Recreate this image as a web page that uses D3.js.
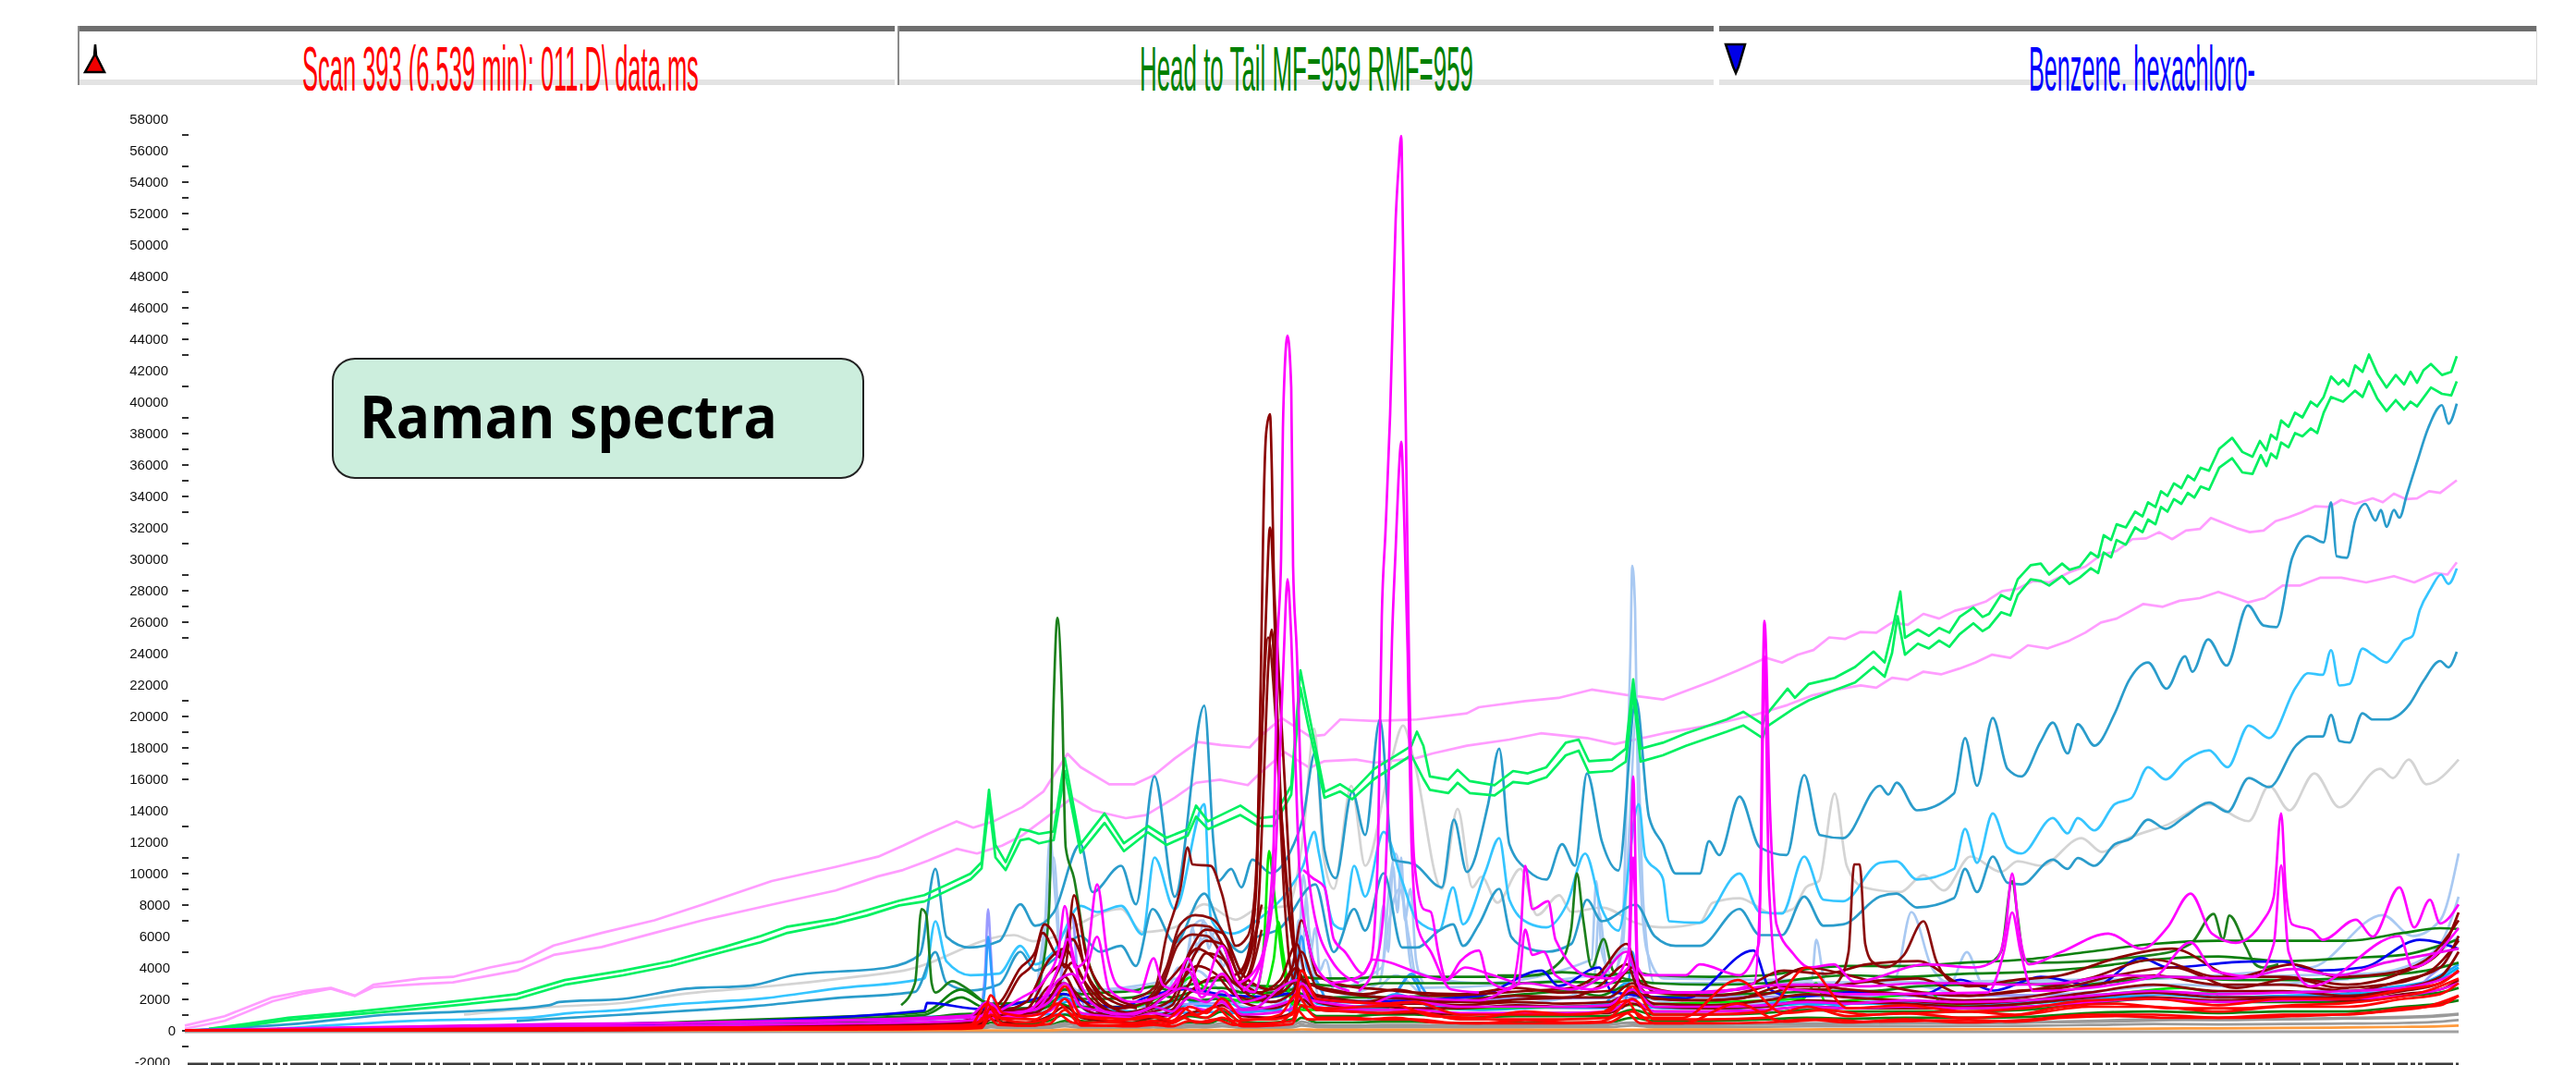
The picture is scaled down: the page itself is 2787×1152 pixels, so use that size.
<!DOCTYPE html>
<html>
<head>
<meta charset="utf-8">
<title>Raman spectra</title>
<script src="https://d3js.org/d3.v7.min.js"></script>
<style>
    html, body { margin:0; padding:0; background:#fff; }
    svg { display:block; }
    .spec { fill:none; stroke-width:2.7; stroke-linejoin:round; }
    .ylab { font-family:"Liberation Sans",Arial,sans-serif; font-size:15px; fill:#111; }
    .head { font-family:"Liberation Sans",Arial,sans-serif; font-size:69px; }
</style>
</head>
<body>
<script>
// header strip
const headTitles = ["Scan 393 (6.539 min): 011.D\\ data.ms", "Head to Tail MF=959 RMF=959", "Benzene, hexachloro-"];
const headColors = ["#ff0000", "#008000", "#0000ff"];

// y axis
const labelTicks = d3.range(-2000, 58001, 2000);
const minorTicks = [57000,55000,54000,53000,52000,51000,47000,46000,45000,44000,43000,41000,39000,38000,37000,36000,35000,34000,33000,31000,29000,28000,27000,26000,25000,21000,20000,19000,18000,17000,16000,13000,11000,10000,9000,8000,7000,5000,3000,2000,1000,0,-1000];

// upper spectra, channel / intensity
const pinkUpperX = [200,243,295,330,358,384,404,456,490,530,565,599,651,708,760,835,904,950,977,1004,1035,1053,1075,1106,1129,1155,1169,1200,1227,1249,1271,1296,1321,1352,1363,1387,1417,1433,1450,1487,1533,1587,1600,1650,1686,1722,1759,1799,1853,1880,1911,1928,1945,1962,1979,1996,2013,2030,2047,2064,2081,2098,2115,2132,2149,2166,2183,2200,2217,2239,2256,2273,2290,2307,2322,2336,2350,2365,2380,2392,2409,2420,2434,2449,2462,2476,2490,2505,2520,2533,2548,2567,2578,2590,2603,2615,2628,2640,2658];
const pinkUpperY = [300,900,2100,2500,2700,2200,2900,3300,3400,4000,4400,5400,6200,7000,8000,9500,10400,11050,11750,12500,13300,12900,13300,14200,15200,17600,16750,15650,15650,16250,17300,18350,18150,18000,18700,19860,18700,18800,19780,19680,19780,20170,20560,20950,21150,21680,21350,21050,22230,22900,23700,23400,23900,24200,25000,24900,25350,25300,25950,25800,26500,26200,26700,26950,27300,27950,28100,28600,28500,29150,29500,30250,30500,31250,31300,31700,31250,31800,31900,32600,32200,31950,31700,31800,32400,32650,32950,33350,33300,33750,33500,33850,33600,34150,33800,33850,34300,34200,35000];
const pinkLowerX = [200,243,295,330,358,384,404,456,490,559,599,651,708,760,835,904,950,977,1004,1035,1057,1084,1106,1138,1160,1182,1218,1240,1271,1294,1320,1350,1363,1390,1417,1433,1467,1487,1533,1550,1587,1633,1667,1717,1747,1800,1850,1900,1934,1960,1985,2013,2030,2047,2064,2081,2100,2120,2137,2155,2175,2194,2215,2239,2256,2273,2290,2319,2340,2358,2380,2400,2415,2432,2450,2470,2488,2510,2533,2560,2590,2612,2635,2648,2658];
const pinkLowerY = [100,600,1850,2350,2650,2200,2750,2950,3050,3800,4800,5300,6200,7000,8000,8900,9800,10200,10800,11550,11250,11750,12400,13800,14800,14000,13500,13700,14800,15750,15950,15600,16350,17700,16700,17130,17230,17030,17330,17620,18110,18500,18900,18600,18210,18900,19400,20100,20700,21300,21650,21950,21800,22430,22300,22820,22650,23020,23400,23900,23700,24500,24300,24800,25300,25950,26200,27130,26950,27330,27500,27900,27600,27230,27500,28310,28300,28800,28800,28500,28900,28500,29100,29000,29780];
const greenUpperX = [226,266,312,370,421,485,559,611,674,726,783,823,852,904,938,973,1000,1022,1050,1062,1070,1077,1088,1104,1113,1124,1140,1152,1169,1195,1216,1242,1262,1285,1294,1307,1342,1362,1378,1397,1407,1415,1433,1450,1463,1487,1527,1533,1540,1547,1567,1577,1590,1617,1637,1653,1673,1694,1708,1719,1744,1759,1767,1775,1799,1824,1868,1886,1907,1911,1934,1942,1957,1971,1985,2007,2027,2039,2047,2056,2061,2075,2087,2098,2109,2120,2135,2145,2152,2165,2175,2183,2197,2208,2217,2231,2239,2250,2262,2270,2276,2284,2290,2300,2310,2318,2324,2332,2338,2345,2352,2360,2367,2374,2381,2390,2401,2415,2426,2437,2445,2452,2457,2463,2468,2476,2483,2491,2500,2507,2514,2522,2530,2535,2541,2548,2556,2563,2572,2582,2592,2601,2608,2615,2622,2630,2642,2652,2658];
const greenUpperY = [100,400,800,1100,1400,1800,2300,3200,3800,4400,5300,6000,6600,7100,7650,8250,8600,9200,9970,10700,15300,11800,10700,12800,12700,12500,12650,17300,11850,13800,11900,13000,12250,12800,14300,13300,14300,13500,13600,15560,22900,20460,15170,15660,15170,16640,18100,19000,18100,16150,15950,16580,15860,15600,16500,16350,16740,18300,18500,17130,17230,17920,22330,17920,18300,18900,19780,20270,19480,20080,21740,21160,22040,22230,22430,23120,24100,23410,25370,27920,24980,25500,25100,25600,25300,26300,26900,26300,26500,27700,27400,28700,29600,29700,29000,29700,29300,29500,30400,30100,31500,31200,32200,32000,33000,32700,33600,33300,34300,34000,34800,34500,35300,35000,35800,35600,37000,37700,36800,36500,37500,36900,37900,37600,38800,38400,39300,39000,40000,39700,40300,41600,41100,41400,41000,42300,41900,43000,41800,40900,41700,41100,41900,41200,42000,42400,41700,41900,42900];
const greenLowerX = [226,266,312,370,421,485,559,611,674,726,783,823,852,904,938,973,1000,1022,1050,1062,1070,1077,1088,1104,1113,1124,1140,1152,1169,1195,1216,1242,1262,1285,1294,1307,1342,1362,1378,1397,1407,1415,1433,1450,1463,1487,1527,1540,1547,1567,1577,1590,1617,1637,1653,1673,1694,1708,1719,1744,1759,1767,1775,1799,1824,1868,1886,1907,1911,1940,1957,1985,2007,2027,2039,2047,2053,2061,2075,2087,2098,2109,2120,2135,2145,2152,2165,2175,2183,2197,2208,2217,2231,2239,2250,2262,2270,2276,2284,2290,2300,2310,2318,2324,2332,2338,2345,2352,2360,2367,2374,2381,2390,2401,2415,2426,2437,2446,2452,2457,2463,2468,2476,2483,2491,2500,2507,2514,2522,2535,2548,2556,2563,2572,2582,2592,2601,2608,2615,2630,2642,2652,2658];
const greenLowerY = [80,300,650,950,1200,1550,2000,2900,3500,4100,5000,5600,6200,6800,7300,7950,8200,8800,9600,10300,14500,11000,10200,12100,12200,11900,12100,16500,11300,13200,11400,12600,11800,12400,13600,12800,13700,13000,13000,15000,21800,19500,14800,15200,14700,16000,17500,16000,15300,15100,15750,15100,14950,15800,15700,16100,17500,17800,16400,16500,17100,21500,17100,17500,18100,19000,19400,18600,19300,20450,21000,21650,22130,23120,22500,24000,26350,23900,24600,24300,24800,24400,25200,25900,25400,25650,26600,26400,27700,28700,28600,28300,28900,28400,28800,29400,29100,30400,30100,31200,30900,32000,31700,32500,32200,33300,33000,33800,33500,34200,33900,34600,34400,35800,36400,35500,35400,36600,35900,36700,36400,37400,37100,38000,37800,38300,38000,39300,40300,40000,40700,40300,41300,40200,39400,40100,39500,40000,39700,40900,40500,40400,41300];
const tealUpperX = [200,318,421,502,594,605,674,743,812,858,961,995,1012,1024,1049,1081,1104,1120,1140,1169,1182,1213,1229,1249,1271,1303,1313,1318,1332,1343,1355,1375,1395,1410,1423,1433,1445,1463,1477,1493,1507,1530,1560,1573,1587,1610,1622,1633,1653,1673,1690,1704,1717,1733,1751,1770,1784,1799,1813,1839,1849,1860,1882,1904,1933,1952,1969,1994,2034,2043,2052,2074,2114,2126,2139,2156,2172,2187,2208,2221,2237,2248,2266,2288,2303,2324,2344,2364,2372,2389,2409,2432,2449,2463,2480,2497,2514,2522,2528,2539,2548,2559,2570,2576,2582,2590,2596,2604,2615,2627,2642,2649,2658];
const tealUpperY = [0,400,1000,1200,1600,1800,2000,2650,2850,3500,4000,4800,10270,5960,5270,5670,8020,6650,7500,11840,8800,10470,8020,16150,8500,20660,11840,9490,10270,9100,10860,10000,11250,13600,17720,11450,9680,15170,12430,19780,10860,10570,9100,13400,10080,14390,17920,11840,10170,9590,11840,10470,16350,12040,10170,21050,13600,11840,9980,9980,12040,11150,14880,11640,11150,16250,12430,12230,15560,15000,15760,14000,15070,18600,15560,19880,16640,16150,18400,19580,17620,19480,18110,20170,22230,23410,21740,23800,22820,24880,23210,27040,25760,25660,30070,31450,31050,33600,30170,30070,32430,33500,32430,33110,32030,33110,32620,34090,36150,38310,39780,38600,39870];
const skyX = [300,444,571,617,674,731,829,904,1000,1012,1024,1050,1081,1104,1120,1140,1169,1187,1213,1236,1249,1271,1303,1310,1320,1333,1360,1395,1410,1422,1427,1443,1453,1465,1477,1497,1517,1533,1557,1572,1583,1607,1622,1633,1653,1673,1695,1715,1733,1751,1773,1780,1799,1806,1839,1882,1904,1928,1952,1973,1994,2034,2052,2074,2114,2126,2139,2156,2172,2187,2221,2237,2248,2266,2288,2306,2324,2343,2364,2390,2410,2433,2455,2484,2497,2513,2522,2531,2542,2556,2567,2582,2593,2600,2610,2618,2630,2641,2649,2658];
const skyY = [100,600,800,1100,1300,1650,2050,2650,3300,6940,4390,3510,3610,5370,4200,5000,7920,7530,7920,6100,11000,7700,14390,7140,6350,6160,7000,9000,10500,12620,11250,6740,6450,10470,8510,12620,9490,7000,6350,9100,6740,10080,12230,8310,6840,6550,8000,11250,7720,6350,14390,11060,9680,6940,6840,9980,7530,7430,11060,8310,8210,10660,10760,9590,10270,12820,10660,13800,11640,11250,13510,12530,13510,12720,14390,14780,16740,15960,17130,17820,16740,19390,18600,21840,22720,22620,24190,21940,22040,24290,23900,23410,24190,24780,25080,26740,28110,29000,28410,29390];
const tealLowerX = [559,674,818,904,990,1012,1024,1050,1081,1104,1120,1140,1169,1190,1213,1229,1247,1271,1303,1320,1343,1355,1385,1423,1443,1465,1477,1497,1517,1533,1557,1572,1583,1600,1622,1635,1653,1673,1700,1717,1733,1770,1790,1813,1839,1882,1904,1928,1952,1973,1994,2034,2052,2074,2114,2126,2139,2156,2172,2187,2221,2237,2248,2266,2288,2306,2324,2343,2364,2390,2410,2433,2455,2484,2498,2513,2522,2531,2542,2556,2567,2582,2607,2622,2640,2649,2658];
const tealLowerY = [600,1000,1550,2050,2450,4980,3020,2530,2920,5000,3800,4500,6000,5000,5370,4100,7720,5570,8700,6550,4980,5760,6500,9290,4980,7720,6350,10000,5270,5270,6350,6740,5370,6740,9000,5960,5200,5000,5500,8310,6940,8000,6000,5370,5370,7720,6060,6060,8510,6650,6740,8510,8700,7820,8410,10270,8800,11060,9390,9290,10860,10270,10960,10470,11840,12230,13410,12820,13600,14490,13900,16050,15470,18110,18700,18700,20070,18410,18310,20170,19780,19780,20760,22230,23500,23100,24090];
const greyLineX = [502,599,674,743,823,932,978,1097,1118,1213,1236,1271,1303,1337,1360,1393,1410,1422,1432,1443,1462,1477,1505,1518,1530,1560,1577,1593,1603,1620,1645,1663,1687,1700,1733,1770,1799,1839,1853,1882,1918,1940,1954,1968,1985,1998,2016,2056,2081,2103,2132,2165,2183,2208,2252,2274,2303,2346,2390,2433,2455,2477,2504,2531,2575,2589,2606,2625,2660];
const greyLineY = [1000,1500,1750,2350,2750,3450,3800,6060,5670,7720,6250,6550,8020,7040,7720,7920,12430,19190,11060,9000,15560,10470,17130,19390,17130,9000,14090,9100,9780,8120,10270,7330,8600,7530,7820,6840,6550,6840,8120,8410,7430,7720,9100,9500,15070,10470,9100,8800,9880,8900,11060,10080,10760,10470,12230,11350,12230,13110,14390,13310,15560,14000,16350,14190,16640,16050,17230,15660,17230];

// sharp peaks
const magentaTallX = [1440,1470,1483,1487,1491,1495,1499,1504,1510,1513,1516,1518,1521,1524,1530,1540,1548,1556,1565,1585,1610,1640];
const magentaTallY = [3000,3400,4400,6350,12000,26380,31790,39200,51600,54800,56900,50000,38200,25260,10860,7720,7530,5000,3220,4000,3600,3000];
const magentaInnerX = [1470,1487,1496,1502,1506,1510,1513,1516,1519,1523,1527,1534,1548,1570,1600];
const magentaInnerY = [2500,4000,7000,15000,24800,30700,35000,37450,33000,24000,12000,6500,5000,2600,2400];
const magentaSecondX = [1340,1362,1372,1378,1382,1386,1388,1390,1393,1397,1399,1403,1408,1412,1420,1440,1470];
const magentaSecondY = [3000,4200,7000,12000,24400,30000,38300,42150,44200,40900,29550,24150,15000,12000,8000,4500,3000];
const magentaSecond2X = [1345,1365,1378,1385,1389,1393,1397,1401,1406,1414,1430,1460];
const magentaSecond2Y = [2500,4500,9000,18000,24000,28700,25000,18000,10000,6000,3500,2500];
const brownTallX = [1335,1345,1357,1360,1365,1367,1370,1374,1376,1378,1382,1390,1397,1403,1412];
const brownTallY = [3500,4000,7330,10270,25700,32900,38100,39200,35700,29400,24400,15760,8310,4000,3000];
const brownInnerX = [1345,1355,1361,1366,1370,1374,1378,1382,1386,1392,1400,1408];
const brownInnerY = [3500,6000,12000,20000,27000,32000,28000,20000,14000,9000,5000,3200];
const brownInner2X = [1345,1357,1363,1368,1372,1376,1380,1385,1390,1397,1406];
const brownInner2Y = [3000,5000,9500,17000,23000,25500,21000,15000,11000,6500,3000];
const brownShoulderX = [1225,1250,1262,1277,1285,1290,1310,1322,1337,1350,1358,1363,1372,1380,1390,1396,1405];
const brownShoulderY = [2000,2800,6000,9000,11640,10560,10460,8700,5370,6000,9000,16000,25000,20000,8000,4000,2500];
const brownGroupX = [1240,1262,1277,1293,1310,1327,1340,1352,1365];
const brownGroupY = [1800,4000,6740,7330,7130,5760,3600,4800,8000];
const brownGroup2X = [1240,1260,1275,1292,1308,1325,1338,1350,1362];
const brownGroup2Y = [1600,3400,6000,6700,6600,5200,3100,4200,7000];
const brownGroup3X = [1240,1258,1274,1290,1306,1323,1342,1355,1365];
const brownGroup3Y = [1500,2900,5400,6100,6000,4700,2800,4000,6400];
const brownLeftX = [1060,1085,1103,1120,1130,1145,1152,1162,1175,1190,1207,1230];
const brownLeftY = [800,2000,3900,5000,6740,5400,4000,8600,4800,2800,2030,1500];
const brownLeft2X = [1060,1085,1103,1118,1128,1143,1150,1160,1173,1188,1205,1230];
const brownLeft2Y = [700,1600,3400,4300,6200,4800,4600,7400,4100,2500,1800,1400];
const brownSpikeX = [1940,1975,1990,2000,2006,2012,2018,2025,2040,2060,2081,2095,2115,2150];
const brownSpikeY = [2600,2600,3200,5000,10560,10560,5500,4400,4000,4800,6940,4400,3000,2800];
const darkGreenPeakX = [1120,1128,1135,1140,1144,1149,1153,1162,1175,1190];
const darkGreenPeakY = [2500,4000,7720,21050,26250,21050,11640,9680,5000,2600];
const darkGreenSmallX = [975,990,997,1002,1008,1012,1030,1045,1062];
const darkGreenSmallY = [1600,3020,7720,7400,3000,2400,3120,2700,1900];
const darkGreenMidX = [1620,1660,1690,1700,1706,1713,1722,1735,1745,1753,1765];
const darkGreenMidY = [3500,3500,4500,6500,10000,7000,4000,5800,3800,3400,3200];
const darkGreenMid2X = [2150,2165,2177,2183,2190,2205,2330,2370,2395,2405,2412,2430,2440,2448,2465];
const darkGreenMid2Y = [4200,5000,9500,7200,4500,4300,4800,5500,7400,5800,7300,5300,4200,4000,4200];
const magentaLowX = [1410,1420,1433,1443,1455,1475,1485,1565,1580,1600,1610,1633,1645,1650,1658,1675,1683,1720,1745,1762,1767,1772,1780,1824,1839,1882,1897,1903,1909,1915,1922,1940,1958,1984,2006,2085,2136,2160,2170,2177,2184,2195,2230,2281,2317,2345,2370,2393,2419,2448,2460,2468,2473,2480,2502,2513,2549,2567,2596,2612,2629,2640,2660];
const magentaLowY = [10200,9700,9100,5800,5000,3600,4500,3200,4400,5080,3200,2600,6000,10470,7720,8210,5760,3410,3300,5000,16150,4000,3510,3510,4200,3510,4600,5570,26050,14000,6740,4880,4000,4200,3100,4200,4000,4500,6500,9980,6500,4200,4980,6160,5180,6550,8700,6160,5570,6940,8500,13800,9000,6740,6350,5760,7040,5960,9100,6550,8310,6800,8020];
const magentaLow2X = [1620,1643,1650,1658,1670,1683,1720,1762,1767,1772,1780,1850,1898,1905,1909,1914,1925,1960,2000,2150,2168,2177,2186,2200,2330,2370,2395,2440,2460,2468,2476,2500,2596,2610,2660];
const magentaLow2Y = [2400,3000,6400,4800,5000,3500,2600,4000,11000,3000,2400,2400,3000,10000,23800,9000,2700,2500,2300,2400,5000,7500,5000,2500,3400,5600,3800,3400,5500,10500,5000,2800,6000,4000,6500];
const magentaMidX = [1050,1080,1103,1130,1145,1152,1163,1175,1187,1198,1210,1225,1233,1248,1258,1270,1285,1300,1322,1337,1357,1370];
const magentaMidY = [800,1200,2000,3200,5000,7910,3990,4500,9290,4780,2800,2500,2420,4580,2900,2620,4580,2500,5370,3210,2430,5760];
const magentaMid2X = [1060,1100,1130,1148,1155,1170,1187,1200,1225,1262,1285,1300,1322,1345,1370];
const magentaMid2Y = [700,1000,2200,4500,5800,3000,5950,2600,1800,2400,3900,2100,3600,1800,2200];
const limeX = [1340,1355,1362,1368,1373,1378,1382,1390,1400,1415];
const limeY = [1800,2200,3000,6000,11400,9000,6930,3500,1800,1500];
const lime2X = [1230,1270,1290,1310,1360,1378,1383,1388,1398,1410,1950,1965,1975,2050,2090,2100,2130,2300,2360,2400];
const lime2Y = [1500,2600,3400,2300,1800,4500,6900,5000,1700,1300,2000,3000,1800,2200,2400,1700,1500,2400,2700,2300];
const paleBlueX = [1125,1130,1136,1141,1147,1155,1280,1290,1300,1315,1330,1400,1406,1410,1416,1422,1430,1495,1503,1510,1518,1528,1600,1722,1727,1733,1745,1755,1760,1764,1766,1769,1773,1782,1800,1960,1965,1975,2050,2068,2090,2110,2128,2145,2500,2578,2610,2640,2660];
const paleBlueY = [2000,6000,12230,9000,4500,2500,3400,6500,7000,5500,3000,2500,6000,9880,6500,4000,2500,4000,9000,11250,8500,3800,3000,4500,9490,5000,3500,6000,15000,24000,29550,26850,12000,5000,3300,3200,5760,3000,3300,7530,4000,3000,4980,3000,4000,7330,6000,7000,11250];
const paleBlue2X = [1120,1133,1140,1150,1280,1296,1310,1325,1345,1403,1408,1418,1428,1492,1503,1514,1524,1535,1725,1730,1740,1755,1763,1770,1778,1790,2560,2600,2640,2660];
const paleBlue2Y = [1800,8000,11000,2500,2900,5500,6000,4500,2200,2800,7500,4500,2000,3000,7000,9000,6000,2700,3500,7500,3300,5000,13000,20000,8000,3000,3600,4000,5500,8500];
const paleBlue3X = [1265,1275,1282,1290,1296,1302,1308,1315,1322,1332,1345];
const paleBlue3Y = [2500,4000,3000,6500,5000,7000,5200,6500,4000,5000,2500];
const paleBlue4X = [1490,1497,1502,1507,1512,1516,1520,1526,1532,1540];
const paleBlue4Y = [3500,8000,5000,10500,7500,11000,7000,9000,4500,3000];
const paleBlue5X = [1400,1405,1409,1413,1418,1423,1428,1434,1442];
const paleBlue5Y = [2500,7000,4500,8500,5000,6500,3800,4500,2500];
const periwinkleX = [1060,1066,1069,1072,1076,1085,1145,1155,1160,1166,1175,1300,2610,2630,2645,2660];
const periwinkleY = [700,4000,7700,5000,1500,900,2500,6500,7400,3500,1400,1700,2600,3500,4300,5800];
const dodgerX = [1060,1066,1069,1073,1080,1500,1518,1525,1532,1545,1755,1762,1766,1772,1785];
const dodgerY = [800,3000,5950,3500,1000,1500,3000,3500,3000,1500,1400,3000,5000,3000,1500];
const dodger2X = [1395,1402,1408,1414,1426,1440,1500,1515,1527,1540,1552];
const dodger2Y = [1000,3500,6000,4000,3000,1500,1400,2800,3600,2600,1400];
const blueX = [200,500,700,1000,1003,1062,1095,1150,1173,1213,1237,1285,1327,1373,1393,1427,1460,1500,1600,1668,1686,1730,1744,1824,1897,1915,1940,2012,2078,2121,2157,2208,2266,2317,2346,2433,2469,2506,2556,2618,2660];
const blueY = [0,250,400,1250,1740,1350,1640,2320,1830,1450,2030,2620,2230,2130,2330,1940,1800,1850,2200,3800,2820,4000,2430,2040,5080,2600,2140,2450,2240,3220,2530,3410,2820,4590,4000,4380,4380,3800,4000,5760,5180];

// low-lying spectra, these share one channel list
const lowX = [200,300,400,500,600,700,800,900,1000,1040,1062,1072,1085,1110,1135,1152,1170,1195,1225,1248,1268,1287,1305,1322,1345,1375,1398,1408,1425,1460,1495,1530,1580,1640,1690,1740,1766,1790,1850,1910,1955,2000,2060,2125,2190,2260,2330,2400,2470,2540,2600,2640,2660];
const darkGreen1 = [0,30,100,180,300,450,650,850,1150,2600,1900,1700,1700,1800,2000,2600,2300,2400,2500,2800,2500,2900,3100,3200,2900,2800,3000,3400,3300,3300,3400,3400,3400,3400,3700,3500,3700,3500,3400,3500,3900,4100,4100,4300,4500,5000,5500,5700,5700,5700,6200,6500,6450];
const darkGreen2 = [0,20,60,120,220,350,520,700,980,2100,1500,1400,1400,1400,1700,2300,2000,2000,2100,2400,2100,2400,2700,2700,2400,2400,2600,3000,2900,2800,3000,3000,3000,3000,3100,3000,3200,3000,2900,3000,3300,3500,3400,3600,3700,4000,4500,4700,4400,4600,4800,5400,5800];
const darkGreen3 = [0,5,20,40,60,90,130,180,240,300,350,900,500,400,600,1000,600,500,500,800,500,900,800,1200,500,500,700,1500,900,900,1000,1000,800,900,900,900,1300,1000,1000,1100,1300,1200,1200,1200,1300,1700,2000,1800,1800,1800,2200,2400,2700];
const darkGreen4 = [0,0,10,20,40,60,80,100,150,180,200,500,300,250,300,600,300,250,300,450,250,500,400,700,300,300,400,800,500,500,550,550,450,500,500,500,800,600,600,700,800,750,800,800,850,1100,1200,1100,1200,1200,1500,1700,1900];
const brown1 = [0,0,0,20,60,100,180,260,380,450,500,1600,1300,1800,4500,5200,3400,1700,1100,1400,2000,5000,6400,6200,3500,2600,4000,7000,3500,2800,2600,2400,2300,2700,2400,2500,4000,2400,2200,2800,4000,3500,2600,2200,2500,3300,4500,3400,3400,2900,3700,5000,7500];
const brown2 = [0,0,10,30,80,150,250,320,450,520,600,1200,1000,1300,3600,4200,2600,1300,900,1200,1600,4200,5700,5500,3000,2200,3000,5000,2700,2300,2100,2000,1900,2200,2100,2100,3000,2000,1900,2300,2900,2600,2300,1900,2100,2800,3500,2900,2900,2500,3200,4000,6000];
const brown3 = [0,0,5,15,40,90,150,220,300,360,500,900,700,900,2800,3000,2000,1000,800,900,1300,3000,4900,4600,2500,1800,2400,3300,2200,1900,1700,1700,1600,1800,1700,1800,2400,1700,1600,1900,2300,2100,1900,1700,1900,2400,2900,2500,2500,2200,2700,3400,5000];
const brown4 = [0,0,0,0,30,60,100,150,220,260,400,1400,800,1100,2000,3400,1500,900,700,800,1000,2400,3200,3400,1800,1400,1900,3800,1800,1500,1500,1400,1400,1600,1500,1500,2600,1500,1400,1500,1900,1800,1700,1500,1700,2100,2400,2100,2100,2100,2500,3000,3800];
const brown5 = [0,0,0,0,10,30,60,90,140,180,300,700,500,500,900,1500,800,600,500,600,600,1100,1300,1600,900,800,1100,2000,1300,1200,1100,1100,1000,1100,1100,1100,1700,1200,1200,1300,1500,1400,1400,1400,1500,1800,2100,1900,2000,1900,2300,2600,3200];
const magentaBand1 = [0,100,200,300,400,450,520,600,700,800,900,1700,1100,1200,1800,3000,1500,1200,1000,1500,1200,2100,1800,2500,1300,1500,2000,3000,2000,1800,1700,1800,1500,1500,1500,1600,2600,1500,1500,1600,1800,1700,1900,1800,1900,2200,2500,2300,2400,2500,2700,3200,3700];
const magentaBand2 = [0,60,120,180,240,280,340,420,520,600,700,1200,800,900,1200,2000,1100,900,800,1100,900,1500,1300,1800,1000,1100,1400,2200,1500,1300,1300,1300,1100,1100,1100,1200,1900,1200,1200,1300,1500,1400,1500,1400,1500,1800,2000,1800,1900,2000,2200,2600,3000];
const skyBand = [0,20,80,200,350,450,550,650,850,950,1100,1600,1300,1400,1700,2100,1500,1300,1200,1400,1300,1700,1900,2000,1400,1400,2000,2800,1700,1500,1700,2000,1400,1500,1500,1700,2400,1500,1400,1500,1700,1700,1700,1600,1700,2000,2300,2100,2200,2300,2600,3300,4000];
const greyBand = [0,0,10,20,30,50,70,90,120,140,180,350,250,200,250,450,250,200,200,300,200,350,300,450,250,250,300,550,350,300,350,350,300,300,350,350,500,350,350,400,450,450,450,450,500,600,700,650,700,750,800,900,1000];
const greyBand2 = [0,0,0,10,20,30,40,50,70,90,110,200,150,120,150,250,150,120,120,180,120,200,180,260,150,150,180,300,200,180,200,200,180,180,200,200,300,200,200,220,250,260,260,270,290,340,400,380,400,430,470,550,650];
const orangeBand = [0,0,0,0,0,0,0,0,0,0,0,0,0,0,0,50,30,30,30,30,30,30,30,30,30,30,30,60,40,40,40,40,40,40,40,40,40,50,50,60,60,70,70,70,80,90,110,130,150,180,220,260,300];
const red1 = [0,30,60,90,120,150,180,200,250,300,600,2230,1100,900,1300,2800,900,800,700,900,600,1500,1100,2030,700,700,1000,3800,2000,1800,1700,1800,1000,1000,1000,1200,2800,1000,1000,1200,4000,1400,1600,1200,1400,1900,2000,1600,2000,2000,2600,3000,3800];
const red2 = [0,10,20,30,50,70,90,110,150,200,300,1500,700,500,800,2000,500,500,450,600,450,1000,800,1400,400,450,600,2800,1300,1200,1100,1200,700,700,700,800,2000,700,700,800,1500,900,1100,800,1000,1500,1500,1200,1500,1500,2000,2300,3000];
const red3 = [0,5,10,15,20,30,40,50,80,100,150,1000,400,300,400,1300,300,300,250,350,250,600,500,800,250,300,400,1600,800,800,700,700,450,450,450,500,1200,450,450,500,700,500,700,500,650,1000,1000,800,1000,1000,1400,1600,2200];

// second batch of low spectra, peaks land elsewhere
const lowX2 = [200,500,800,1000,1050,1068,1080,1120,1145,1160,1180,1210,1240,1262,1280,1295,1315,1335,1360,1385,1403,1415,1440,1475,1510,1550,1600,1650,1700,1730,1760,1775,1820,1880,1930,1975,2020,2075,2130,2180,2230,2290,2350,2420,2480,2530,2580,2625,2660];
const brown6 = [0,40,150,350,700,1800,1200,1500,3800,5800,3000,1400,1800,3000,4200,5200,4500,3000,2400,3200,5500,3000,2600,2300,2600,2200,2300,2500,2700,3600,5500,3000,2400,2600,3800,3600,4200,4400,2800,3200,3500,4600,5200,3400,4200,3400,3600,4500,7000];
const brown7 = [0,20,100,260,500,1300,900,1100,2900,4300,2300,1100,1400,2300,3300,4100,3600,2300,1900,2500,4000,2400,2100,1800,2100,1800,1800,2000,2100,2800,4200,2300,1900,2000,2800,2800,3100,3300,2200,2500,2700,3500,4000,2700,3300,2700,2900,3600,5700];
const red4 = [0,50,130,260,340,1700,800,700,1700,1000,800,600,900,700,1400,1000,1500,600,700,1000,2300,1500,1400,1500,1600,900,800,1200,1000,1100,1900,800,800,3200,1100,1300,1000,1100,1200,1000,1500,1700,1400,1400,1600,1700,2000,2500,3300];
const red5 = [0,15,50,110,160,950,350,300,1000,500,350,300,450,350,800,500,700,350,400,500,1300,700,700,700,800,500,450,650,500,550,1100,450,450,1700,550,700,550,600,650,550,800,900,800,800,900,1000,1200,1500,2200];
const darkGreen5 = [0,80,320,800,1050,900,1000,1200,1700,1500,1500,1500,1700,1800,2000,1900,2000,1900,2000,2200,2400,2200,2100,2100,2100,2200,2100,2300,2500,2200,2800,2100,2200,2300,2400,2500,2500,2800,2900,3000,2800,3100,3400,3200,3200,3300,3500,3800,4300];
const magenta3 = [0,250,550,800,950,1800,1100,1300,3200,3600,1800,1000,1300,2200,2700,2400,2200,1300,1500,2700,3200,2000,1700,1500,2200,2000,1900,3000,2600,3300,5000,2800,2400,2600,2900,2900,2800,3000,3000,2900,3000,3500,3400,3300,3900,3500,4300,4800,5200];
const sky2 = [0,150,400,700,900,1500,900,1000,1600,1900,1100,1000,1300,1600,2100,1600,1500,1100,1200,1400,3800,1700,1300,1400,2300,1500,1300,1400,1500,1500,3000,1500,1400,1400,1800,1500,1800,1800,1700,1800,1900,2100,2300,2100,2200,2300,2700,3100,4200];
const paleLow = [0,60,220,500,700,1800,1100,1100,2500,2700,1400,1100,1400,2400,3200,3800,2800,1700,1400,1800,4800,2800,1700,1800,3500,1800,1500,1700,2200,3500,5200,2200,1700,1600,2000,2600,2400,2800,2200,2200,2300,2600,2900,2800,3000,3200,3600,4400,6000];
const grey3 = [0,20,60,110,140,300,200,180,300,400,250,200,220,260,350,320,300,260,240,300,450,300,280,280,300,280,280,320,330,340,480,330,330,380,370,400,420,440,450,480,520,560,650,700,730,790,830,900,1050];

// draw order, back to front
const seriesTable = [
    [pinkUpperX, pinkUpperY, "#ff9dff"], [pinkLowerX, pinkLowerY, "#ff9dff"],
    [greyLineX, greyLineY, "#d4d4d4"],
    [paleBlueX, paleBlueY, "#a9c9f2"], [paleBlue2X, paleBlue2Y, "#a9c9f2"],
    [paleBlue3X, paleBlue3Y, "#a9c9f2"], [paleBlue4X, paleBlue4Y, "#a9c9f2"], [paleBlue5X, paleBlue5Y, "#a9c9f2"],
    [lowX2, paleLow, "#a9c9f2"],
    [lowX, skyBand, "#00b0f0"], [lowX2, sky2, "#1aa6ff"],
    [periwinkleX, periwinkleY, "#9a9aff"],
    [skyX, skyY, "#35c5ff"], [tealLowerX, tealLowerY, "#2b9ccb"], [tealUpperX, tealUpperY, "#2b9ccb"],
    [greenUpperX, greenUpperY, "#00f060"], [greenLowerX, greenLowerY, "#00f060"],
    [dodgerX, dodgerY, "#2e9dff"], [dodger2X, dodger2Y, "#2e9dff"],
    [darkGreenPeakX, darkGreenPeakY, "#1f801f"], [darkGreenSmallX, darkGreenSmallY, "#1f801f"],
    [darkGreenMidX, darkGreenMidY, "#1f801f"], [darkGreenMid2X, darkGreenMid2Y, "#1f801f"],
    [lowX, darkGreen1, "#108010"], [lowX, darkGreen2, "#108010"], [lowX2, darkGreen5, "#108010"], [lowX, darkGreen3, "#108010"], [lowX, darkGreen4, "#108010"],
    [limeX, limeY, "#00e800"], [lime2X, lime2Y, "#00e800"],
    [blueX, blueY, "#0000f0"],
    [lowX, greyBand, "#9a9a9a"], [lowX, greyBand2, "#9a9a9a"], [lowX2, grey3, "#9a9a9a"], [lowX, orangeBand, "#ff9a3c"],
    [brownShoulderX, brownShoulderY, "#8b0f0f"], [brownSpikeX, brownSpikeY, "#8b0f0f"],
    [brownGroupX, brownGroupY, "#8b0f0f"], [brownGroup2X, brownGroup2Y, "#8b0f0f"], [brownGroup3X, brownGroup3Y, "#8b0f0f"],
    [brownLeftX, brownLeftY, "#8b0000"], [brownLeft2X, brownLeft2Y, "#8b0000"],
    [lowX, brown1, "#8b0000"], [lowX, brown2, "#8b0000"], [lowX, brown3, "#8b0000"], [lowX, brown4, "#8b0000"], [lowX, brown5, "#8b0000"],
    [lowX2, brown6, "#8b0000"], [lowX2, brown7, "#8b0000"],
    [brownTallX, brownTallY, "#8b0000"], [brownInnerX, brownInnerY, "#8b0000"], [brownInner2X, brownInner2Y, "#8b0000"],
    [lowX, magentaBand1, "#f000f0"], [lowX, magentaBand2, "#f000f0"], [lowX2, magenta3, "#f000f0"],
    [magentaMidX, magentaMidY, "#ff00ff"], [magentaMid2X, magentaMid2Y, "#ff00ff"],
    [magentaLowX, magentaLowY, "#ff00ff"], [magentaLow2X, magentaLow2Y, "#ff00ff"],
    [magentaSecondX, magentaSecondY, "#ff00ff"], [magentaSecond2X, magentaSecond2Y, "#ff00ff"],
    [magentaTallX, magentaTallY, "#ff00ff"], [magentaInnerX, magentaInnerY, "#ff00ff"],
    [lowX, red3, "#ff0000"], [lowX2, red5, "#ff0000"], [lowX, red2, "#ff0000"], [lowX2, red4, "#ff0000"], [lowX, red1, "#ff0000"]
];
// these wobble sample by sample, no smoothing
const jagged = [pinkUpperX, pinkLowerX, greenUpperX, greenLowerX];

var W = 2787, H = 1152;
var svg = d3.select("body").append("svg").attr("width", W).attr("height", H);

var defs = svg.append("defs");
defs.append("filter").attr("id", "soft").attr("x", "-5%").attr("y", "-5%").attr("width", "110%").attr("height", "110%")
    .append("feGaussianBlur").attr("stdDeviation", 0.6);
defs.append("filter").attr("id", "softer").attr("x", "-20%").attr("y", "-5%").attr("width", "140%").attr("height", "110%")
    .append("feGaussianBlur").attr("stdDeviation", 0.7);

var x = d3.scaleLinear().domain([200, 2660]).range([200, 2660]);
var y = d3.scaleLinear().domain([-2000, 58000]).range([1148.5, 128.5]);

// header panels
var panels = [[84, 884], [971, 883], [1860, 885]];
var head = svg.append("g");
panels.forEach(function(p) {
    head.append("rect").attr("x", p[0]).attr("y", 28).attr("width", p[1]).attr("height", 6).attr("fill", "#6e6e6e");
    head.append("rect").attr("x", p[0]).attr("y", 86).attr("width", p[1]).attr("height", 6).attr("fill", "#e3e3e3");
});
head.append("rect").attr("x", 84).attr("y", 28).attr("width", 2).attr("height", 64).attr("fill", "#8a8a8a");
head.append("rect").attr("x", 971).attr("y", 28).attr("width", 2).attr("height", 64).attr("fill", "#8a8a8a");
head.append("rect").attr("x", 2744).attr("y", 28).attr("width", 1).attr("height", 64).attr("fill", "#d8d8d8");

// titles are squeezed sideways to their span
var headSpans = [[327, 429], [1233, 361], [2195, 245]];
head.selectAll("text").data(headTitles).enter().append("text")
    .attr("class", "head")
    .attr("fill", function(d, i) { return headColors[i]; })
    .text(function(d) { return d; })
    .attr("transform", function(d, i) {
        var sx = headSpans[i][1] / this.getComputedTextLength();
        return "translate(" + headSpans[i][0] + ",98) scale(" + sx + ",1)";
    });
// the screenshot cut the tails of the titles off at this row
head.append("rect").attr("x", 300).attr("y", 98).attr("width", 2200).attr("height", 16).attr("fill", "#fff");

head.append("path").attr("d", "M103,48 L104,60 L113,78 L92,78 L102,60 Z").attr("fill", "#f00000").attr("stroke", "#000").attr("stroke-width", 2.5);
head.append("path").attr("d", "M1867,48 L1888,48 L1881,72 L1878,79 L1875,72 Z").attr("fill", "#0000e8").attr("stroke", "#000").attr("stroke-width", 2.5);

// y axis labels and the tick stubs
var labels = svg.append("g").attr("filter", "url(#softer)").attr("transform", "translate(182,0)")
    .call(d3.axisLeft(y).tickValues(labelTicks).tickSize(0).tickPadding(0).tickFormat(String));
labels.select(".domain").remove();
labels.selectAll("text").attr("class", "ylab")
    .attr("dx", function(d) { return d === 0 ? 8 : (Math.abs(d) < 10000 ? 2 : 0); });
labels.attr("font-size", null).attr("font-family", null);

var stubs = svg.append("g").attr("filter", "url(#soft)").attr("transform", "translate(204,0)")
    .call(d3.axisLeft(y).tickValues(minorTicks).tickSize(7).tickFormat(""));
stubs.select(".domain").remove();
stubs.selectAll("text").remove();
stubs.selectAll("line").attr("stroke", "#333").attr("stroke-width", 2);

// spectra
var line = d3.line().x(function(d) { return x(d[0]); }).y(function(d) { return y(d[1]); });
var plot = svg.append("g").attr("filter", "url(#soft)");
plot.append("line").attr("x1", x(200)).attr("x2", x(2660)).attr("y1", y(0) + 1.5).attr("y2", y(0) + 1.5)
    .attr("stroke", "#a0a0a0").attr("stroke-width", 3);
plot.selectAll("path.spec").data(seriesTable).enter().append("path")
    .attr("class", "spec")
    .attr("stroke", function(d) { return d[2]; })
    .attr("d", function(d) {
        return line.curve(jagged.includes(d[0]) ? d3.curveLinear : d3.curveMonotoneX)(d3.zip(d[0], d[1]));
    });

// x axis along the bottom edge, only its ticks survive
svg.append("line").attr("x1", 203).attr("x2", 2660).attr("y1", 1151).attr("y2", 1151)
    .attr("stroke", "#3a3a3a").attr("stroke-width", 3)
    .attr("stroke-dasharray", "22 3 14 3 9 3 24 3 11 3 5 3 5 3 30 3 18 3");

// callout
svg.append("rect").attr("x", 360).attr("y", 388).attr("width", 574).attr("height", 129).attr("rx", 24)
    .attr("fill", "#cceedd").attr("stroke", "#222").attr("stroke-width", 2);
svg.append("text").attr("font-family", "'Open Sans','Noto Sans',sans-serif").attr("font-weight", 700).attr("font-size", 64)
    .attr("fill", "#000").text("Raman spectra")
    .attr("transform", function() { return "translate(389,474) scale(" + (452 / this.getComputedTextLength()) + ",1)"; });
</script>
</body>
</html>
